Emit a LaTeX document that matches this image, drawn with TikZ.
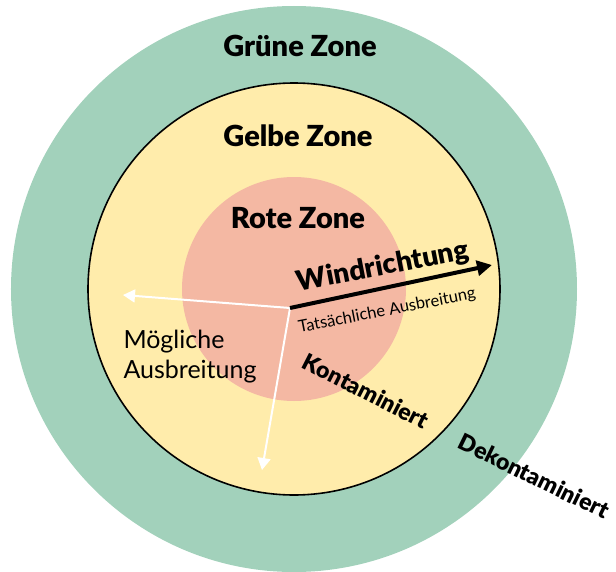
\documentclass[tikz,border=0pt]{standalone}
\usepackage{fontspec}
\setmainfont{Lato}
\newfontfamily\heavyfont{Lato Black}
\usetikzlibrary{arrows.meta}
\definecolor{GreenZone}{RGB}{162,209,187}
\definecolor{YellowZone}{RGB}{255,236,171}
\definecolor{RedZone}{RGB}{244,184,163}
\tikzset{
  zonelabel/.style={font=\heavyfont\fontsize{29}{32}\selectfont},
  areelabel/.style={font=\heavyfont\fontsize{23}{26}\selectfont},
  windarrow/.style={line width=4pt, -{Triangle[length=15pt,width=15pt]}},
  spreadarrow/.style={white, line width=2pt, -{Triangle[length=12pt,width=13pt]}}
}
\begin{document}
\begin{tikzpicture}[x=1pt,y=1pt]
  \useasboundingbox (-294,-282) rectangle (322,289);
  % zones
  \fill[GreenZone] (0,0) circle (283);
  \filldraw[fill=YellowZone, draw=black, line width=1.6pt] (0,0) circle (206);
  \fill[RedZone] (0,0) circle (112);
  \node[zonelabel] (gruen) at (6,243) {Grüne Zone};
  \node[zonelabel] (gelb) at (4,153) {Gelbe Zone};
  \node[zonelabel] (rot) at (4,71) {Rote Zone};
  % arrows
  \coordinate (quelle) at (-4,-19);
  \coordinate (windspitze) at (198,24);
  \coordinate (linksspitze) at (-171,-6);
  \coordinate (untenspitze) at (-32,-181);
  \draw[spreadarrow] (quelle) -- (linksspitze);
  \draw[spreadarrow] (quelle) -- (untenspitze);
  \draw[windarrow] (quelle) -- (windspitze);
  \node[font=\heavyfont\fontsize{28}{30}\selectfont, rotate=11] (wind) at (89,22) {Windrichtung};
  \node[font=\fontsize{16.5}{18}\selectfont, rotate=11] (tats) at (93,-22) {Tatsächliche Ausbreitung};
  \node[font=\fontsize{25}{30}\selectfont, anchor=west, align=left] (moegl) at (-174,-68) {Mögliche\\Ausbreitung};
  \node[areelabel, rotate=-27] (konta) at (72,-102) {Kontaminiert};
  \node[areelabel, rotate=-26] (dekonta) at (240,-187) {Dekontaminiert};
\end{tikzpicture}
\end{document}
